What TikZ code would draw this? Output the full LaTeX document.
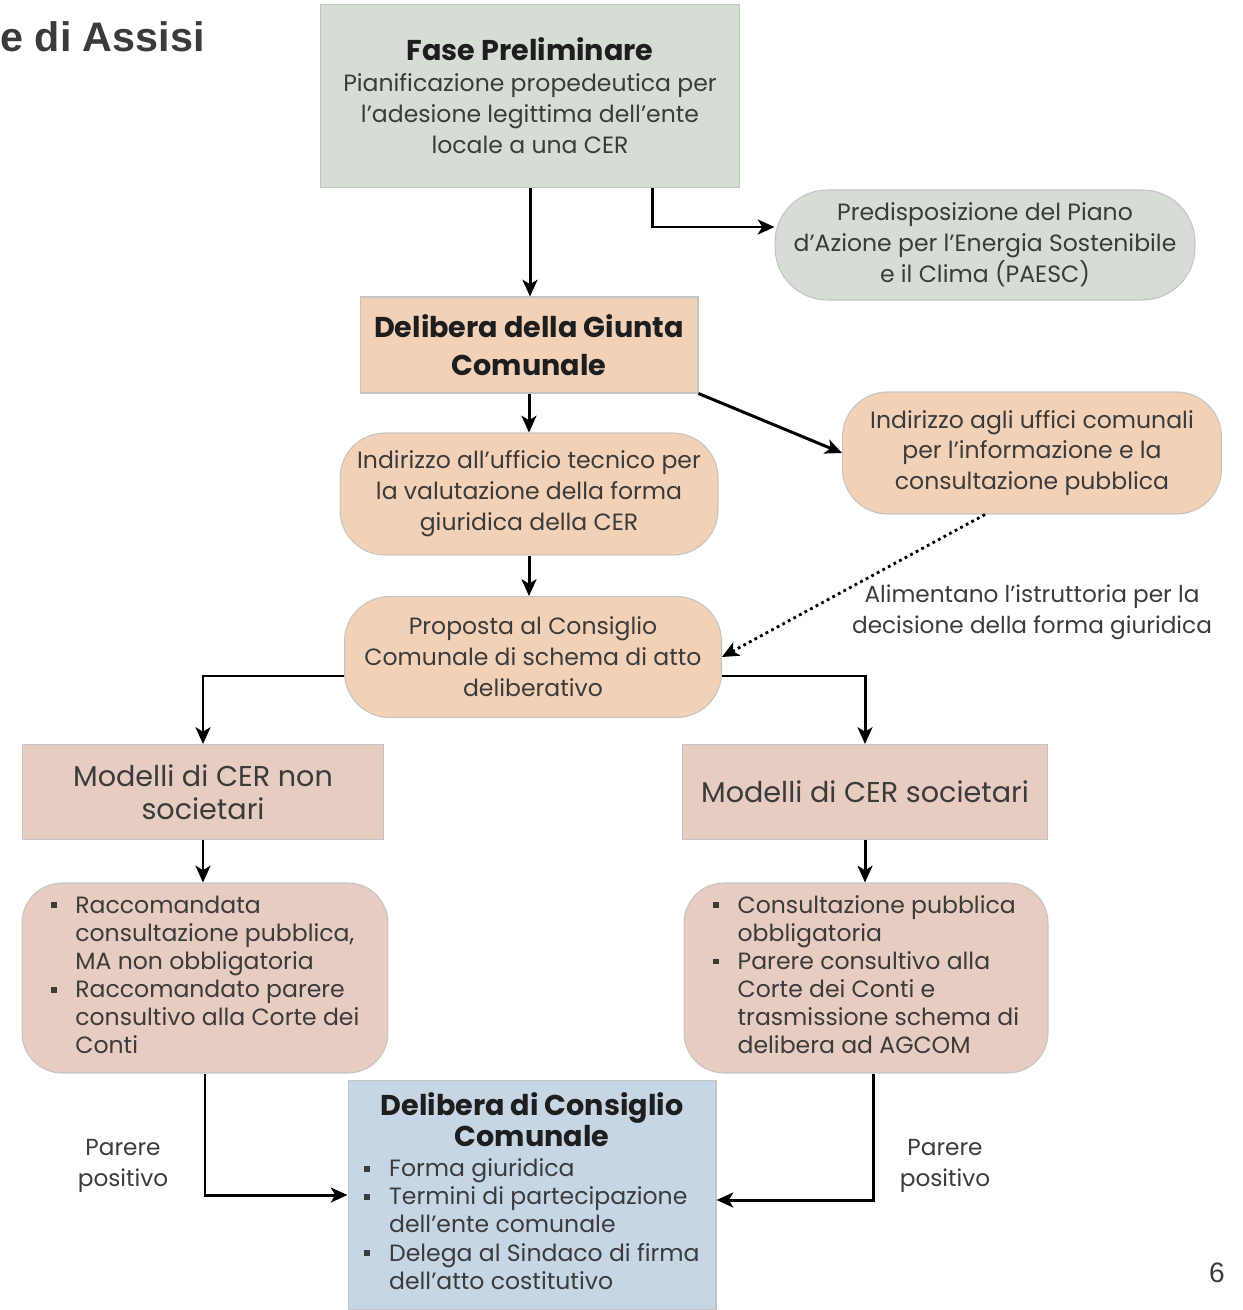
\documentclass[tikz,border=0pt]{standalone}
\usepackage{fontspec}
\setmainfont{Poppins}
\newfontfamily\slidefont{Liberation Sans}
\usepackage{xcolor}
\usetikzlibrary{arrows, arrows.meta, positioning, calc}

\definecolor{sagefill}{HTML}{D6DDD4}
\definecolor{peachfill}{HTML}{F3D1B7}
\definecolor{rosefill}{HTML}{E7CCC2}
\definecolor{bluefill}{HTML}{C7D6E5}
\definecolor{textgrey}{HTML}{3B3B3B}
\definecolor{titleblack}{HTML}{1E1E1E}
\definecolor{edgegrey}{HTML}{C4C4C4}

\newcommand{\bul}{\rule[0.22em]{0.25em}{0.25em}}
\newcommand{\boxtitle}[1]{\textcolor{titleblack}{\bfseries\fontsize{16.3}{19}\selectfont #1}}

\tikzset{
    >={Stealth[length=9.5pt, width=8.5pt, inset=2.5pt]},
    plainbox/.style={draw=edgegrey, line width=0.6pt, align=center, text=textgrey,
        inner sep=2pt, font=\fontsize{13.4}{17.6}\selectfont},
    roundbox/.style={plainbox, rounded corners=0.9cm},
    listbox/.style={roundbox, fill=rosefill, rounded corners=0.8cm, font=\fontsize{13.4}{16}\selectfont},
    modelbox/.style={plainbox, fill=rosefill, font=\fontsize{16.3}{19}\selectfont},
    conn/.style={->, line width=1.7pt},
    dotconn/.style={->, line width=1.6pt, dotted},
    note/.style={align=center, text=textgrey, font=\fontsize{13.2}{17.6}\selectfont}
}

\begin{document}
\begin{tikzpicture}[x=0.02cm, y=-0.02cm]
                \useasboundingbox (0,0) rectangle (1242,1310);

                \node[anchor=base east, inner sep=0pt, text=textgrey, font=\slidefont\bfseries\fontsize{23.5}{28}\selectfont] (title) at (205,52) {e di Assisi};

                % first row
                \node[plainbox, fill=sagefill, minimum width=8.4cm, minimum height=3.66cm] (fase) at (530,96)
                    {\boxtitle{Fase Preliminare}\\
                     Pianificazione propedeutica per\\ l'adesione legittima dell'ente\\ locale a una CER};
                \node[roundbox, fill=sagefill, rounded corners=1.05cm, minimum width=8.4cm, minimum height=2.2cm] (paesc) at (985,245)
                    {Predisposizione del Piano\\ d'Azione per l'Energia Sostenibile\\ e il Clima (PAESC)};

                \node[plainbox, fill=peachfill, minimum width=6.76cm, minimum height=1.92cm,
                      font=\bfseries\fontsize{16.3}{22}\selectfont, text=titleblack] (giunta) at (529,345)
                    {Delibera della Giunta\\ Comunale};

                \node[roundbox, fill=peachfill, minimum width=7.56cm, minimum height=2.44cm] (tecnico) at (529,494)
                    {Indirizzo all'ufficio tecnico per\\ la valutazione della forma\\ giuridica della CER};
                \node[roundbox, fill=peachfill, minimum width=7.58cm, minimum height=2.44cm] (uffici) at (1032,453)
                    {Indirizzo agli uffici comunali\\ per l'informazione e la\\ consultazione pubblica};

                \node[roundbox, fill=peachfill, minimum width=7.54cm, minimum height=2.42cm] (proposta) at (533,657)
                    {Proposta al Consiglio\\ Comunale di schema di atto\\ deliberativo};
                \node[note] (alimentano) at (1032,612)
                    {Alimentano l'istruttoria per la\\ decisione della forma giuridica};

                % two models
                \node[modelbox, minimum width=7.24cm, minimum height=1.9cm] (nonsoc) at (203,792)
                    {Modelli di CER non\\ societari};
                \node[modelbox, minimum width=7.3cm, minimum height=1.9cm] (soc) at (865,792)
                    {Modelli di CER societari};

                \node[listbox, minimum width=7.32cm, minimum height=3.8cm] (nonsocnote) at (205,978)
                    {\begin{tabular}{@{}l@{\hspace{0.8em}}l@{}}
                     \bul & Raccomandata\\
                          & consultazione pubblica,\\
                          & MA non obbligatoria\\
                     \bul & Raccomandato parere\\
                          & consultivo alla Corte dei\\
                          & Conti
                     \end{tabular}};
                \node[listbox, minimum width=7.28cm, minimum height=3.8cm] (socnote) at (866,978)
                    {\begin{tabular}{@{}l@{\hspace{0.8em}}l@{}}
                     \bul & Consultazione pubblica\\
                          & obbligatoria\\
                     \bul & Parere consultivo alla\\
                          & Corte dei Conti e\\
                          & trasmissione schema di\\
                          & delibera ad AGCOM
                     \end{tabular}};

                % final step
                \node[plainbox, fill=bluefill, minimum width=7.36cm, minimum height=4.6cm,
                      font=\fontsize{13.4}{16}\selectfont] (consiglio) at (532,1195)
                    {\boxtitle{Delibera di Consiglio}\\
                     \boxtitle{Comunale}\\[5pt]
                     \begin{tabular}{@{}l@{\hspace{0.8em}}l@{}}
                     \bul & Forma giuridica\\
                     \bul & Termini di partecipazione\\
                          & dell'ente comunale\\
                     \bul & Delega al Sindaco di firma\\
                          & dell'atto costitutivo
                     \end{tabular}};

                \node[note] (pareresx) at (123,1166) {Parere\\ positivo};
                \node[note] (pareredx) at (945,1166) {Parere\\ positivo};

                \node[anchor=base, text=textgrey, font=\slidefont\fontsize{16}{18}\selectfont] (pagenum) at (1217,1282) {6};

                % connectors
                \draw[conn] (fase.south) -- (fase.south |- giunta.north);
                \draw[conn] ([xshift=2.46cm]fase.south) |- ([yshift=0.36cm]paesc.west);
                \draw[conn] (giunta.south) -- (giunta.south |- tecnico.north);
                \draw[conn] (giunta.south east) -- (uffici.west);
                \draw[conn] (tecnico.south) -- (tecnico.south |- proposta.north);
                \draw[dotconn] ([xshift=-0.94cm]uffici.south) -- (proposta.east);
                \draw[conn] ([yshift=-0.38cm]proposta.west) -| (nonsoc.north);
                \draw[conn] ([yshift=-0.38cm]proposta.east) -| (soc.north);
                \draw[conn] (nonsoc.south) -- (nonsoc.south |- nonsocnote.north);
                \draw[conn] (soc.south) -- (soc.south |- socnote.north);
                \draw[conn] (nonsocnote.south) |- (consiglio.west);
                \draw[conn] ([xshift=0.14cm]socnote.south) |- ([yshift=-0.1cm]consiglio.east);
            \end{tikzpicture}
\end{document}
